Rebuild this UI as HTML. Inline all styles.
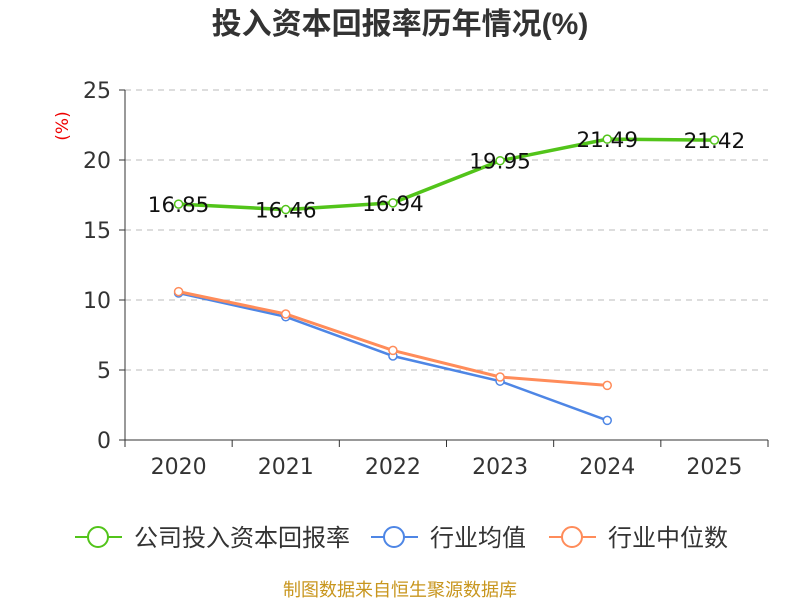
<!DOCTYPE html>
<html><head><meta charset="utf-8"><style>
body{margin:0;background:#fff;}
svg text{font-family:"DejaVu Sans","Noto Sans CJK SC",sans-serif;}
</style></head><body>
<svg id="chart" width="800" height="600" xmlns="http://www.w3.org/2000/svg">
<text x="400" y="34" text-anchor="middle" font-size="30" font-weight="bold" fill="#333" style="font-family:'Liberation Sans','Noto Sans CJK SC',sans-serif">投入资本回报率历年情况(%)</text>
<text x="68" y="126" font-size="17" fill="#e00" text-anchor="middle" transform="rotate(-90 68 126)">(%)</text>
<g id="grid"></g><g id="axes"></g><g id="series"></g>
<g>
<g><line x1="75" y1="537" x2="122" y2="537" stroke="#52c41a" stroke-width="2"/><circle cx="98" cy="537" r="10" fill="#fff" stroke="#52c41a" stroke-width="2"/><text x="134" y="546" font-size="24" fill="#333" style="font-family:'Liberation Sans','Noto Sans CJK SC',sans-serif">公司投入资本回报率</text></g>
<g><line x1="371" y1="537" x2="418" y2="537" stroke="#4e86e5" stroke-width="2"/><circle cx="394" cy="537" r="10" fill="#fff" stroke="#4e86e5" stroke-width="2"/><text x="430" y="546" font-size="24" fill="#333" style="font-family:'Liberation Sans','Noto Sans CJK SC',sans-serif">行业均值</text></g>
<g><line x1="549" y1="537" x2="596" y2="537" stroke="#ff8c5a" stroke-width="2"/><circle cx="572" cy="537" r="10" fill="#fff" stroke="#ff8c5a" stroke-width="2"/><text x="608" y="546" font-size="24" fill="#333" style="font-family:'Liberation Sans','Noto Sans CJK SC',sans-serif">行业中位数</text></g>
</g>
<text x="400" y="596" text-anchor="middle" font-size="18" fill="#c8961e" style="font-family:'Liberation Sans','Noto Sans CJK SC',sans-serif">制图数据来自恒生聚源数据库</text>
</svg>
<script>
const categories=["2020","2021","2022","2023","2024","2025"];
const companyValues=[16.85,16.46,16.94,19.95,21.49,21.42];
const industryAvg=[10.5,8.8,6.0,4.2,1.4];
const industryMedian=[10.6,9.0,6.4,4.5,3.9];
const yTicks=[0,5,10,15,20,25];
const NS="http://www.w3.org/2000/svg";
const x0=125,x1=768,y0=440,yTop=90,yMax=25;
const band=(x1-x0)/categories.length;
const xs=i=>x0+band*(i+0.5);
const ys=v=>y0-(v/yMax)*(y0-yTop);
function mk(parent,tag,attrs){const e=document.createElementNS(NS,tag);for(const k in attrs)e.setAttribute(k,attrs[k]);document.getElementById(parent).appendChild(e);return e;}
yTicks.forEach(t=>{
  if(t>0){const g=mk("grid","line",{x1:x0,x2:x1,y1:ys(t),y2:ys(t),stroke:"#bbb","stroke-dasharray":"6,5"});
  
  }
  const tk=mk("axes","line",{x1:x0-6,x2:x0,y1:ys(t),y2:ys(t),stroke:"#333"});
  
  
  const l=mk("axes","text",{x:x0-14,y:ys(t)+8,"text-anchor":"end","font-size":"22",fill:"#333"});l.textContent=t;
  
  
});
const ya=mk("axes","line",{x1:x0,x2:x0,y1:yTop,y2:y0,stroke:"#333"});


const xa=mk("axes","line",{x1:x0,x2:x1,y1:y0,y2:y0,stroke:"#333"});


for(let i=0;i<=categories.length;i++){const t=mk("axes","line",{x1:x0+band*i,x2:x0+band*i,y1:y0,y2:y0+7,stroke:"#333"});

}
categories.forEach((c,i)=>{const l=mk("axes","text",{x:xs(i),y:y0+34,"text-anchor":"middle","font-size":"22",fill:"#333"});l.textContent=c;

});
function series(vals,color,w,name,labels){
  const p=mk("series","polyline",{points:vals.map((v,i)=>xs(i)+","+ys(v)).join(" "),fill:"none",stroke:color,"stroke-width":w});
  
  
  vals.forEach((v,i)=>{const c=mk("series","circle",{cx:xs(i),cy:ys(v),r:4,fill:"#fff",stroke:color,"stroke-width":1.5});
    
    
    if(labels){const t=mk("series","text",{x:xs(i),y:ys(v)+8,"text-anchor":"middle","font-size":"21.5",fill:"#111"});t.textContent=v.toFixed(2);
    
    }
  });
}
series(industryAvg,"#4e86e5",2.5,"industry-avg",false);
series(industryMedian,"#ff8c5a",3,"industry-median",false);
series(companyValues,"#52c41a",3.5,"company",true);
</script>
</body></html>
